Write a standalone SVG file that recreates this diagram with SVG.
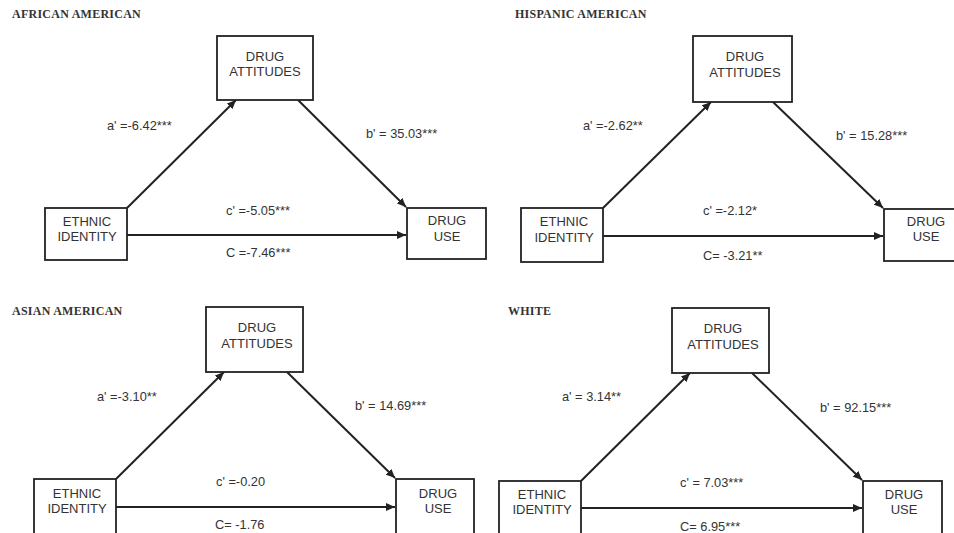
<svg xmlns="http://www.w3.org/2000/svg" width="954" height="533" viewBox="0 0 954 533">
<style>
.title{font-family:"Liberation Serif","Times New Roman",serif;font-weight:bold;font-size:12px;letter-spacing:0.25px;fill:#333}
.node rect{fill:#fff;stroke:#222;stroke-width:1.8}
.node text{font-family:"Liberation Sans",Arial,sans-serif;font-size:13px;fill:#333;text-anchor:middle}
.lbl{font-family:"Liberation Sans",Arial,sans-serif;font-size:12.8px;fill:#333}
.edges line{stroke:#222;stroke-width:2;marker-end:url(#ah)}
</style>
<defs>
<marker id="ah" markerUnits="userSpaceOnUse" markerWidth="10" markerHeight="8" refX="9" refY="4" orient="auto">
<path d="M0,0 L9,4 L0,8 Z" fill="#222"/>
</marker>
</defs>
<rect width="954" height="533" fill="#fff"/>

<text class="title" x="12" y="18">AFRICAN AMERICAN</text>
<text class="title" x="515" y="18">HISPANIC AMERICAN</text>
<text class="title" x="12" y="315">ASIAN AMERICAN</text>
<text class="title" x="508" y="315">WHITE</text>

<g class="edges" id="connectors">
<line x1="127" y1="208" x2="236" y2="100"/>
<line x1="298" y1="100" x2="406" y2="207"/>
<line x1="127" y1="235" x2="406" y2="235"/>
<line x1="603" y1="208" x2="711" y2="102"/>
<line x1="773" y1="102" x2="883" y2="208"/>
<line x1="603" y1="236" x2="883" y2="236"/>
<line x1="116" y1="479" x2="224" y2="372"/>
<line x1="287" y1="372" x2="395" y2="478"/>
<line x1="116" y1="507" x2="395" y2="507"/>
<line x1="581" y1="481" x2="690" y2="373"/>
<line x1="752" y1="373" x2="862" y2="480"/>
<line x1="581" y1="508" x2="862" y2="508"/>
</g>

<g class="node" id="aa-attitudes"><rect x="217" y="36" width="96" height="64"/><text x="265" y="61">DRUG</text><text x="265" y="76">ATTITUDES</text></g>
<g class="node" id="aa-ethnic"><rect x="45" y="208" width="82" height="52"/><text x="87" y="226">ETHNIC</text><text x="87" y="241">IDENTITY</text></g>
<g class="node" id="aa-use"><rect x="407" y="208" width="79" height="51"/><text x="447" y="225">DRUG</text><text x="447" y="241">USE</text></g>

<g class="node" id="ha-attitudes"><rect x="693" y="36" width="99" height="66"/><text x="745" y="61">DRUG</text><text x="745" y="77">ATTITUDES</text></g>
<g class="node" id="ha-ethnic"><rect x="521" y="208" width="82" height="54"/><text x="564" y="226">ETHNIC</text><text x="564" y="242">IDENTITY</text></g>
<g class="node" id="ha-use"><rect x="884" y="209" width="84" height="52"/><text x="926" y="226">DRUG</text><text x="926" y="241">USE</text></g>

<g class="node" id="as-attitudes"><rect x="206" y="307" width="97" height="65"/><text x="257" y="332">DRUG</text><text x="257" y="348">ATTITUDES</text></g>
<g class="node" id="as-ethnic"><rect x="34" y="479" width="82" height="60"/><text x="77" y="498">ETHNIC</text><text x="77" y="513">IDENTITY</text></g>
<g class="node" id="as-use"><rect x="396" y="479" width="78" height="60"/><text x="438" y="498">DRUG</text><text x="438" y="513">USE</text></g>

<g class="node" id="wh-attitudes"><rect x="672" y="308" width="97" height="65"/><text x="723" y="333">DRUG</text><text x="723" y="349">ATTITUDES</text></g>
<g class="node" id="wh-ethnic"><rect x="499" y="481" width="82" height="60"/><text x="542" y="499">ETHNIC</text><text x="542" y="514">IDENTITY</text></g>
<g class="node" id="wh-use"><rect x="863" y="481" width="79" height="60"/><text x="904" y="499">DRUG</text><text x="904" y="514">USE</text></g>

<g id="labels">
<text class="lbl" x="107" y="130">a' =-6.42***</text>
<text class="lbl" x="366" y="138">b' = 35.03***</text>
<text class="lbl" x="226" y="215">c' =-5.05***</text>
<text class="lbl" x="226" y="257">C =-7.46***</text>

<text class="lbl" x="583" y="130">a' =-2.62**</text>
<text class="lbl" x="836" y="140">b' = 15.28***</text>
<text class="lbl" x="703" y="215">c' =-2.12*</text>
<text class="lbl" x="703" y="260">C= -3.21**</text>

<text class="lbl" x="97" y="401">a' =-3.10**</text>
<text class="lbl" x="355" y="410">b' = 14.69***</text>
<text class="lbl" x="216" y="486">c' =-0.20</text>
<text class="lbl" x="215" y="529">C= -1.76</text>

<text class="lbl" x="562" y="401">a' = 3.14**</text>
<text class="lbl" x="820" y="412">b' = 92.15***</text>
<text class="lbl" x="680" y="487">c' = 7.03***</text>
<text class="lbl" x="680" y="531">C= 6.95***</text>
</g>
</svg>
